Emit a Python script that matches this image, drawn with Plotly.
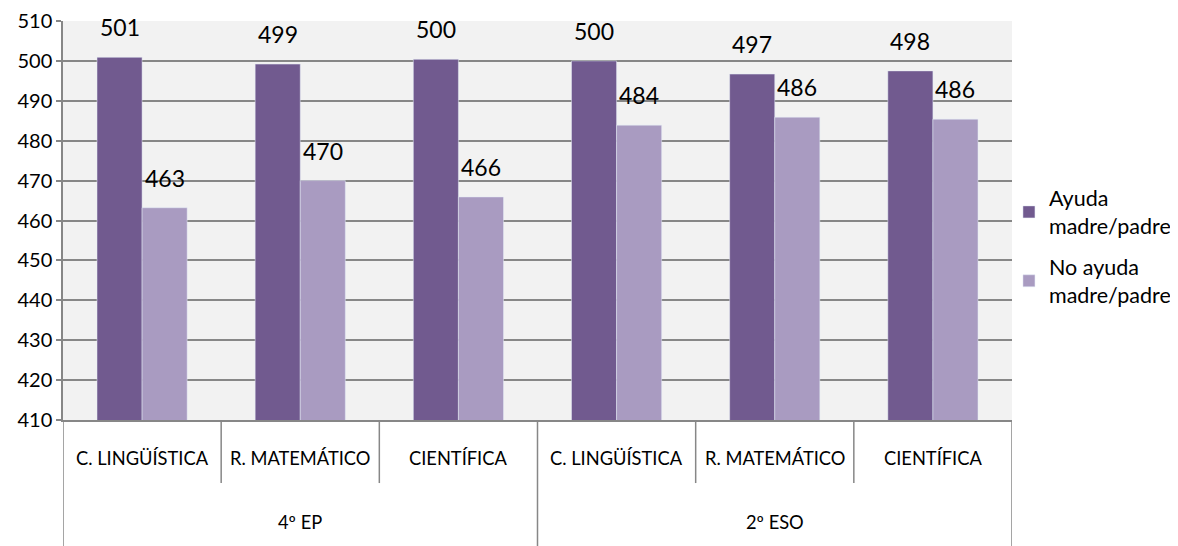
import plotly.graph_objects as go

# datos
grupos = ["4º EP", "2º ESO"]
competencias = ["C. LINGÜÍSTICA", "R. MATEMÁTICO", "CIENTÍFICA",
                "C. LINGÜÍSTICA", "R. MATEMÁTICO", "CIENTÍFICA"]
ayuda = [500.9, 499.2, 500.4, 500.0, 496.7, 497.5]
no_ayuda = [463.2, 470.0, 465.9, 483.9, 485.9, 485.4]
etiq_ayuda = ["501", "499", "500", "500", "497", "498"]
etiq_no_ayuda = ["463", "470", "466", "484", "486", "486"]

FONT = "Lato"
GRID = "#878787"
W = 0.285

pos = list(range(len(competencias)))

fig = go.Figure()
fig.add_trace(go.Bar(
    x=pos, y=ayuda, width=W, offset=-W, legendgroup="a",
    name="Ayuda<br>madre/padre", marker_color="#715A8F",
))
fig.add_trace(go.Bar(
    x=pos, y=no_ayuda, width=W, offset=0, legendgroup="b",
    name="No ayuda<br>madre/padre", marker_color="#A99BC1",
))

# etiquetas de datos
for i in pos:
    fig.add_annotation(x=i - W / 2, y=ayuda[i], text=etiq_ayuda[i],
                       yanchor="bottom", yshift=14, showarrow=False,
                       font=dict(family=FONT, size=23, color="#000"))
    fig.add_annotation(x=i + W / 2, y=no_ayuda[i], text=etiq_no_ayuda[i],
                       yanchor="bottom", yshift=14, showarrow=False,
                       font=dict(family=FONT, size=23, color="#000"))

# eje de categorías en dos niveles
for i, c in enumerate(competencias):
    fig.add_annotation(x=i, y=-0.095, xref="x", yref="paper", text=c,
                       showarrow=False, yanchor="middle",
                       font=dict(family=FONT, size=18.3, color="#000"))
n = len(competencias) // len(grupos)
for g, nombre in enumerate(grupos):
    fig.add_annotation(x=g * n + (n - 1) / 2, y=-0.256, xref="x", yref="paper",
                       text=nombre, showarrow=False, yanchor="middle",
                       font=dict(family=FONT, size=18.3, color="#000"))

for k in range(len(competencias) + 1):
    xb = k - 0.5
    bottom = -0.316 if k % n == 0 else -0.158
    fig.add_shape(type="line", xref="x", yref="paper", x0=xb, x1=xb,
                  y0=0, y1=bottom, line=dict(color=GRID, width=1.5))

# la página añade 8px de margen al cuerpo
fig.update_layout(
    width=1170, height=538,
    margin=dict(l=55, r=166, t=13, b=126, autoexpand=False),
    paper_bgcolor="white", plot_bgcolor="#F2F2F2",
    barmode="overlay",
    font=dict(family=FONT, size=17, color="#000"),
    showlegend=True,
    legend=dict(x=0.9968, xanchor="left", y=0.435, yanchor="middle",
                font=dict(family=FONT, size=21.5, color="#000"),
                itemwidth=30, tracegroupgap=10, bgcolor="rgba(0,0,0,0)"),
)
fig.update_xaxes(range=[-0.5, len(competencias) - 0.5], showticklabels=False,
                 showgrid=False, zeroline=False, showline=True, automargin=False,
                 linecolor=GRID, linewidth=1.5)
fig.update_yaxes(range=[410, 510], dtick=10, showgrid=True, gridcolor=GRID,
                 gridwidth=1.5, showline=True, linecolor=GRID, linewidth=1.5,
                 ticks="outside", ticklen=5, tickcolor=GRID, tickwidth=1.5,
                 zeroline=False, automargin=False,
                 tickfont=dict(family=FONT, size=20, color="#000"))

fig.write_html("out.html")
